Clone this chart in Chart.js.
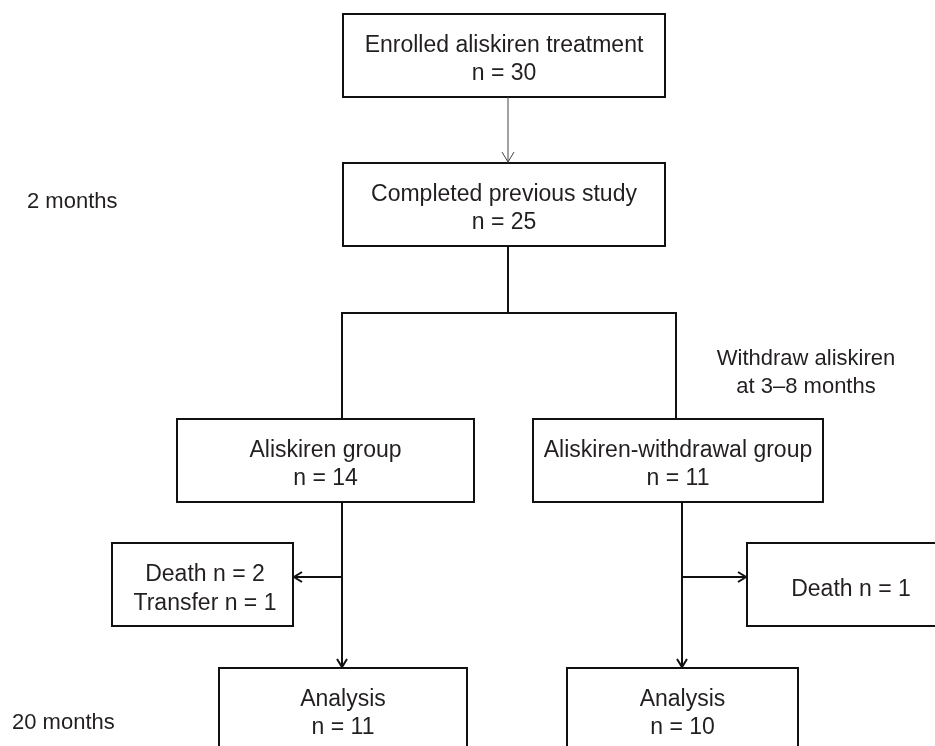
<!DOCTYPE html>
<html lang="en">
<head>
  <meta charset="UTF-8">
  <title>Aliskiren study flow</title>
  <script src="https://cdn.jsdelivr.net/npm/chart.js"></script>
  <style>
    html, body { margin: 0; padding: 0; background: #ffffff; }
    #wrap { width: 935px; height: 746px; }
  </style>
</head>
<body>
  <div id="wrap">
    <canvas id="flow" width="935" height="746"></canvas>
  </div>
  <script>
    // flow content
    const stepLabels = ['Enrolled aliskiren treatment', 'Completed previous study', 'Aliskiren group',
                        'Aliskiren-withdrawal group', 'Analysis', 'Analysis'];
    const stepCounts = [30, 25, 14, 11, 11, 10];
    const exitLeft = ['Death n = 2', 'Transfer n = 1'];
    const exitRight = ['Death n = 1'];
    const timeLabels = ['2 months', '20 months'];
    const noteLines = ['Withdraw aliskiren', 'at 3\u20138 months'];

    // layout in chart units (x 0..935, y 0..746 top-down)
    const stepBoxes = [
      [343, 14, 665, 97],
      [343, 163, 665, 246],
      [177, 419, 474, 502],
      [533, 419, 823, 502],
      [219, 668, 467, 760],
      [567, 668, 798, 760]
    ];
    const exitBoxes = [
      [112, 543, 293, 626],
      [747, 543, 945, 626]
    ];
    const timePos = [[27, 202], [12, 723]];
    const notePos = [806, 359, 387];

    const INK = '#231f20';
    const FONT = '23px "Liberation Sans", Arial, sans-serif';
    const SIDE_FONT = '22px "Liberation Sans", Arial, sans-serif';

    const flowPlugin = {
      id: 'flow',
      afterDatasetsDraw(chart) {
        const ctx = chart.ctx;
        const sx = chart.scales.x, sy = chart.scales.y;
        const X = v => sx.getPixelForValue(v);
        const Y = v => sy.getPixelForValue(v);

        function box(b, lw) {
          ctx.lineWidth = lw;
          ctx.strokeStyle = '#111';
          ctx.strokeRect(X(b[0]), Y(b[1]), X(b[2]) - X(b[0]), Y(b[3]) - Y(b[1]));
        }
        function line(pts, lw, col) {
          ctx.beginPath();
          ctx.lineWidth = lw;
          ctx.strokeStyle = col || '#111';
          pts.forEach((p, i) => i ? ctx.lineTo(X(p[0]), Y(p[1])) : ctx.moveTo(X(p[0]), Y(p[1])));
          ctx.stroke();
        }
        // open chevron head at tip
        function head(tip, dir, lw, len, half, col) {
          const tx = X(tip[0]), ty = Y(tip[1]);
          ctx.beginPath();
          ctx.lineWidth = lw;
          ctx.strokeStyle = col || '#111';
          if (dir === 'down') {
            ctx.moveTo(tx - half, ty - len); ctx.lineTo(tx, ty); ctx.lineTo(tx + half, ty - len);
          } else if (dir === 'left') {
            ctx.moveTo(tx + len, ty - half); ctx.lineTo(tx, ty); ctx.lineTo(tx + len, ty + half);
          } else {
            ctx.moveTo(tx - len, ty - half); ctx.lineTo(tx, ty); ctx.lineTo(tx - len, ty + half);
          }
          ctx.stroke();
        }
        function text(str, x, y, align, font) {
          ctx.fillStyle = INK;
          ctx.font = font || FONT;
          ctx.textAlign = align || 'center';
          ctx.textBaseline = 'middle';
          ctx.fillText(str, X(x), Y(y));
        }

        ctx.save();
        stepBoxes.forEach((b, i) => {
          box(b, 2);
          const cx = (b[0] + b[2]) / 2;
          text(stepLabels[i], cx, b[1] + 32);
          text('n = ' + stepCounts[i], cx, b[1] + 60);
        });
        exitBoxes.forEach(b => box(b, 2));
        exitLeft.forEach((s, i) => text(s, 205, 575 + i * 29));
        exitRight.forEach(s => text(s, 851, 590));

        // connectors
        line([[508, 97], [508, 163]], 1, '#444');
        head([508, 162], 'down', 1, 10, 6, '#444');
        line([[508, 246], [508, 313]], 2);
        line([[342, 419], [342, 313], [676, 313], [676, 419]], 2);
        line([[342, 502], [342, 667]], 2);
        head([342, 667], 'down', 2, 8, 5);
        line([[342, 577], [294, 577]], 2);
        head([294, 577], 'left', 2, 8, 5);
        line([[682, 502], [682, 667]], 2);
        head([682, 667], 'down', 2, 8, 5);
        line([[682, 577], [746, 577]], 2);
        head([746, 577], 'right', 2, 8, 5);

        timeLabels.forEach((s, i) => text(s, timePos[i][0], timePos[i][1], 'left', SIDE_FONT));
        noteLines.forEach((s, i) => text(s, notePos[0], i ? notePos[2] : notePos[1], 'center', SIDE_FONT));
        ctx.restore();
      }
    };

    new Chart(document.getElementById('flow'), {
      type: 'scatter',
      data: { datasets: [{ data: [], pointRadius: 0 }] },
      options: {
        responsive: false,
        animation: false,
        devicePixelRatio: 1,
        layout: { padding: 0 },
        plugins: { legend: { display: false }, tooltip: { enabled: false } },
        scales: {
          x: { type: 'linear', min: 0, max: 935, display: false },
          y: { type: 'linear', min: 0, max: 746, reverse: true, display: false }
        }
      },
      plugins: [flowPlugin]
    });
  </script>
</body>
</html>
